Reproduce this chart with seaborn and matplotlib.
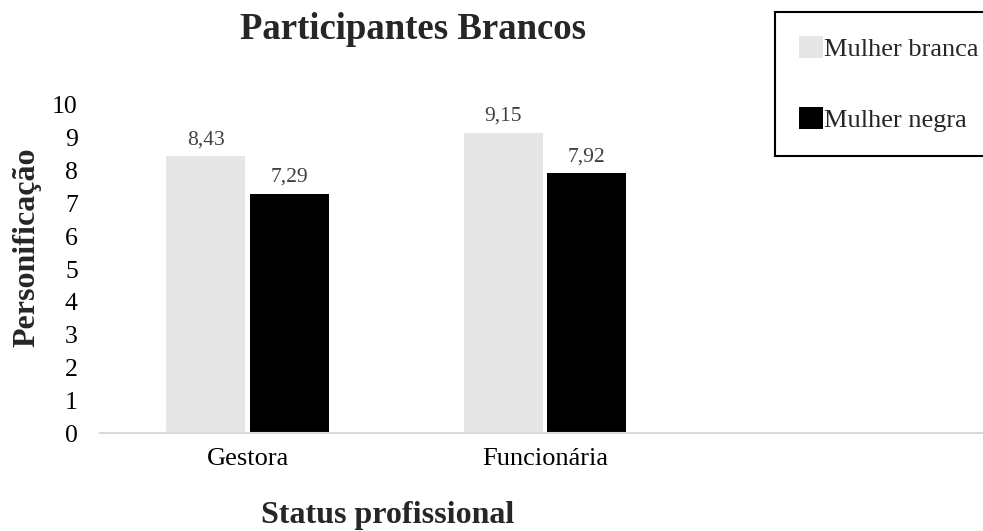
import matplotlib
matplotlib.use("Agg")
import matplotlib.pyplot as plt
import seaborn as sns
import pandas as pd

categories = ["Gestora", "Funcionária"]
series_names = ["Mulher branca", "Mulher negra"]
mulher_branca = [8.43, 9.15]
mulher_negra = [7.29, 7.92]
y_ticks = [0, 1, 2, 3, 4, 5, 6, 7, 8, 9, 10]
title = "Participantes Brancos"
x_title = "Status profissional"
y_title = "Personificação"

sns.set_theme(style="white")
plt.rcParams["font.family"] = ["Liberation Serif", "DejaVu Serif"]

df = pd.DataFrame({
    "Status": categories * 2,
    "Grupo": [series_names[0]] * len(categories) + [series_names[1]] * len(categories),
    "Valor": mulher_branca + mulher_negra,
})

W, H = 983, 531
fig = plt.figure(figsize=(W / 100, H / 100), dpi=100)
ax = fig.add_axes([100 / W, (H - 433) / H, (W - 100) / W, 328 / H])

sns.barplot(data=df, x="Status", y="Valor", hue="Grupo", order=categories,
            hue_order=series_names, palette=["#e6e6e6", "#000000"],
            width=0.56, gap=0.05, ax=ax, linewidth=0, saturation=1, errorbar=None)

for cont in ax.containers:
    ax.bar_label(cont, labels=[f"{v:.2f}".replace(".", ",") for v in cont.datavalues],
                 padding=5, fontsize=15.5, color="#404040")

ax.set_ylim(0, 10)
ax.set_yticks(y_ticks)
ax.set_xlim(-0.496, 2.472)
ax.set_xlabel("")
ax.set_ylabel("")
ax.tick_params(axis="y", length=0, pad=16, labelsize=18.5, labelcolor="#000000")
ax.tick_params(axis="x", length=0, pad=11, labelsize=19, labelcolor="#000000")
for s in ["left", "right", "top"]:
    ax.spines[s].set_visible(False)
ax.spines["bottom"].set_color("#d9d9d9")
ax.spines["bottom"].set_linewidth(1.5)

handles, labels = ax.get_legend_handles_labels()
ax.get_legend().remove()
leg = fig.legend(handles, labels, loc="upper left", bbox_to_anchor=(775 / W, 1 - 12 / H),
                 frameon=True, fancybox=False, framealpha=1, fontsize=19,
                 handlelength=0.91, handleheight=0.91, handletextpad=0.05,
                 labelspacing=1.75, borderpad=0.9, borderaxespad=0)
leg.get_frame().set_edgecolor("#000000")
leg.get_frame().set_linewidth(1.5)

fig.text(413 / W, 1 - 39 / H, title, ha="center", va="baseline",
         fontsize=26.5, fontweight="bold")
fig.text(388 / W, 1 - 523 / H, x_title, ha="center", va="baseline",
         fontsize=23, fontweight="bold")
fig.text(27 / W, 1 - 247.5 / H, y_title, ha="center", va="center",
         rotation=90, fontsize=23, fontweight="bold")

fig.savefig("out.png", dpi=100)
